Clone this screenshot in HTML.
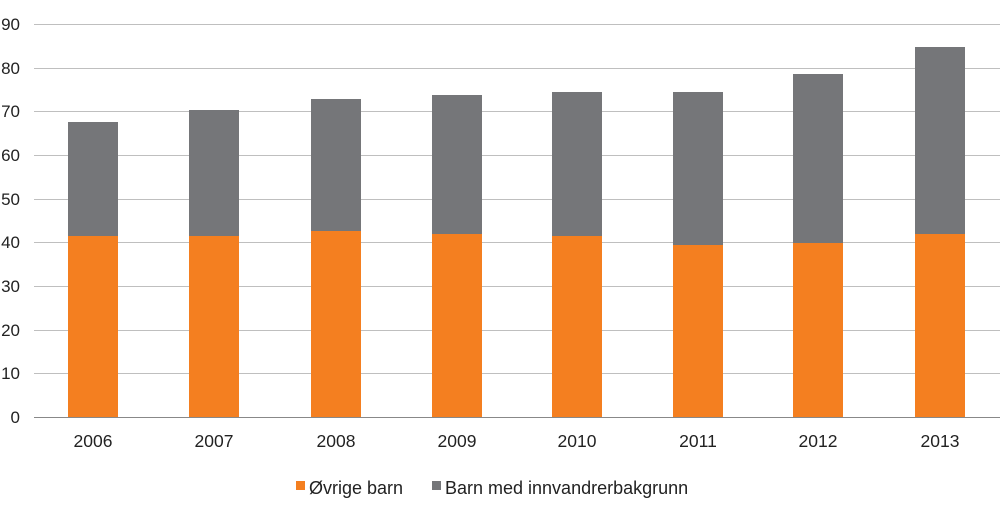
<!DOCTYPE html>
<html><head><meta charset="utf-8"><style>
body{margin:0;background:#fff;}
svg{display:block;font-family:"Liberation Sans",Arial,sans-serif;}
</style></head><body>
<svg width="1000" height="512" viewBox="0 0 1000 512">
<g stroke="#bfbfbf" stroke-width="1">
<line x1="34" y1="24.5" x2="1000" y2="24.5"/>
<line x1="34" y1="68.5" x2="1000" y2="68.5"/>
<line x1="34" y1="111.5" x2="1000" y2="111.5"/>
<line x1="34" y1="155.5" x2="1000" y2="155.5"/>
<line x1="34" y1="199.5" x2="1000" y2="199.5"/>
<line x1="34" y1="242.5" x2="1000" y2="242.5"/>
<line x1="34" y1="286.5" x2="1000" y2="286.5"/>
<line x1="34" y1="330.5" x2="1000" y2="330.5"/>
<line x1="34" y1="373.5" x2="1000" y2="373.5"/>
</g>
<g font-size="17" fill="#222" text-anchor="end">
<text x="20" y="30">90</text><text x="20" y="74">80</text><text x="20" y="117">70</text>
<text x="20" y="161">60</text><text x="20" y="205">50</text><text x="20" y="248">40</text>
<text x="20" y="292">30</text><text x="20" y="336">20</text><text x="20" y="379">10</text>
<text x="20" y="423">0</text>
</g>
<g fill="#757679">
<rect x="68" y="122" width="50" height="295"/>
<rect x="189" y="110" width="50" height="307"/>
<rect x="311" y="99" width="50" height="318"/>
<rect x="432" y="95" width="50" height="322"/>
<rect x="552" y="92" width="50" height="325"/>
<rect x="673" y="92" width="50" height="325"/>
<rect x="793" y="74" width="50" height="343"/>
<rect x="915" y="47" width="50" height="370"/>
</g>
<g fill="#f47f20">
<rect x="68" y="236" width="50" height="181"/>
<rect x="189" y="236" width="50" height="181"/>
<rect x="311" y="231" width="50" height="186"/>
<rect x="432" y="234" width="50" height="183"/>
<rect x="552" y="236" width="50" height="181"/>
<rect x="673" y="245" width="50" height="172"/>
<rect x="793" y="243" width="50" height="174"/>
<rect x="915" y="234" width="50" height="183"/>
</g>
<line x1="34" y1="417.5" x2="1000" y2="417.5" stroke="#888" stroke-width="1"/>
<g font-size="17.5" fill="#222" text-anchor="middle">
<text x="93" y="447">2006</text><text x="214" y="447">2007</text><text x="336" y="447">2008</text>
<text x="457" y="447">2009</text><text x="577" y="447">2010</text><text x="698" y="447">2011</text>
<text x="818" y="447">2012</text><text x="940" y="447">2013</text>
</g>
<rect x="296" y="481" width="9" height="9" fill="#f47f20"/>
<text x="309" y="494" font-size="18" fill="#222">Øvrige barn</text>
<rect x="432" y="481" width="9" height="9" fill="#757679"/>
<text x="445" y="494" font-size="18" fill="#222">Barn med innvandrerbakgrunn</text>
</svg>
</body></html>
